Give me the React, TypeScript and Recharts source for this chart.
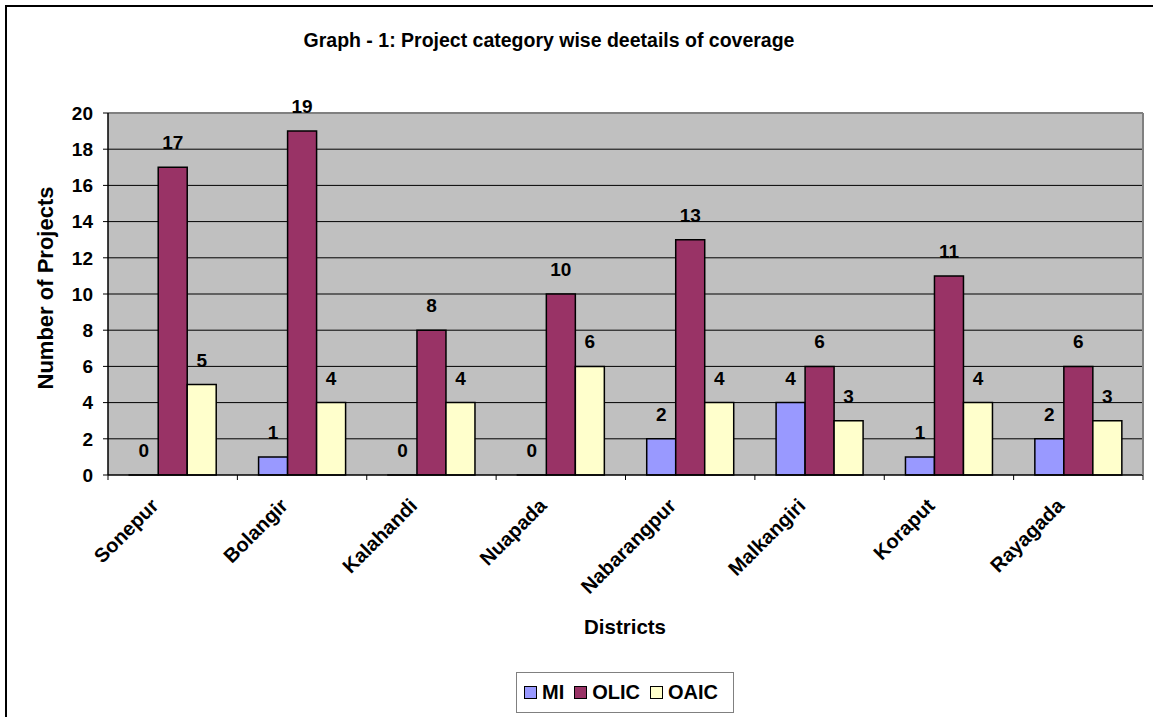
import React from 'react';
import { BarChart, Bar, XAxis, YAxis, CartesianGrid, LabelList, ReferenceLine } from 'recharts';

const districts = ['Sonepur', 'Bolangir', 'Kalahandi', 'Nuapada', 'Nabarangpur', 'Malkangiri', 'Koraput', 'Rayagada'];
const miValues = [0, 1, 0, 0, 2, 4, 1, 2];
const olicValues = [17, 19, 8, 10, 13, 6, 11, 6];
const oaicValues = [5, 4, 4, 6, 4, 3, 4, 3];
const yTicks = [0, 2, 4, 6, 8, 10, 12, 14, 16, 18, 20];

const seriesInfo = [
  { key: 'MI', color: '#9999FF' },
  { key: 'OLIC', color: '#993366' },
  { key: 'OAIC', color: '#FFFFCC' },
];

const data = districts.map((district, i) => ({
  district,
  MI: miValues[i],
  OLIC: olicValues[i],
  OAIC: oaicValues[i],
}));

const FONT = '"Liberation Sans", Arial, sans-serif';
const textStyle = { fontFamily: FONT, fontWeight: 700, fontSize: 19, fill: '#000' };

// category label, rotated, with tick marks on the category boundaries
const DistrictTick = (props: any) => {
  const { x, y, payload, index } = props;
  const half = payload.offset || 0;
  const last = index === districts.length - 1;
  const ax = x - 13;
  const ay = y + 32;
  return (
    <g>
      <line x1={x - half} x2={x - half} y1={y} y2={y + 5} stroke="#000" />
      {last && <line x1={x + half} x2={x + half} y1={y} y2={y + 5} stroke="#000" />}
      <text
        x={ax}
        y={ay}
        textAnchor="end"
        transform={`rotate(-45, ${ax}, ${ay})`}
        style={{ ...textStyle, fontSize: 20 }}
      >
        {payload.value}
      </text>
    </g>
  );
};

const LegendBox = () => (
  <div
    style={{
      position: 'absolute',
      left: 516,
      top: 672,
      boxSizing: 'border-box',
      width: 218,
      height: 41,
      border: '1px solid #808080',
      background: '#fff',
      display: 'flex',
      alignItems: 'center',
      paddingLeft: 7,
      fontFamily: FONT,
      fontWeight: 700,
      fontSize: 20,
      color: '#000',
    }}
  >
    {seriesInfo.map((s) => (
      <div key={s.key} style={{ display: 'flex', alignItems: 'center', marginRight: 10 }}>
        <span
          style={{
            display: 'inline-block',
            boxSizing: 'border-box',
            width: 13,
            height: 13,
            background: s.color,
            border: '1px solid #000',
            marginRight: 5,
          }}
        />
        <span>{s.key}</span>
      </div>
    ))}
  </div>
);

export default function App() {
  return (
    <div style={{ position: 'absolute', left: 0, top: 0, width: 1153, height: 717, overflow: 'hidden', background: '#fff' }}>
      <div
        style={{
          position: 'absolute',
          left: 5,
          top: 5,
          width: 1300,
          height: 900,
          borderLeft: '2px solid #000',
          borderTop: '2px solid #000',
        }}
      />
      <div
        style={{
          position: 'absolute',
          left: 0,
          top: 29,
          width: 1098,
          textAlign: 'center',
          fontFamily: FONT,
          fontWeight: 700,
          fontSize: 19.5,
          lineHeight: '22px',
          whiteSpace: 'nowrap',
        }}
      >
        Graph - 1: Project category wise deetails of coverage
      </div>
      <div
        style={{
          position: 'absolute',
          left: 45,
          top: 288,
          transform: 'translate(-50%, -50%) rotate(-90deg)',
          fontFamily: FONT,
          fontWeight: 700,
          fontSize: 22,
          lineHeight: '25px',
          whiteSpace: 'nowrap',
        }}
      >
        Number of Projects
      </div>
      <div
        style={{
          position: 'absolute',
          left: 525,
          top: 615,
          width: 200,
          textAlign: 'center',
          fontFamily: FONT,
          fontWeight: 700,
          fontSize: 20.5,
          lineHeight: '23px',
        }}
      >
        Districts
      </div>
      <div style={{ position: 'absolute', left: 0, top: 0 }}>
        <BarChart
          width={1153}
          height={717}
          data={data}
          margin={{ top: 113, right: 9, bottom: 241, left: 107 }}
          barCategoryGap="16.4%"
          barGap={0}
        >
          <CartesianGrid
            vertical={false}
            horizontalValues={[2, 4, 6, 8, 10, 12, 14, 16, 18]}
            stroke="#000"
            strokeWidth={1}
            fill="#C0C0C0"
          />
          <XAxis
            dataKey="district"
            height={1}
            tickSize={0}
            tickMargin={0}
            tickLine={false}
            interval={0}
            axisLine={{ stroke: '#000', strokeWidth: 1.5 }}
            tick={<DistrictTick />}
          />
          <YAxis
            width={1}
            domain={[0, 20]}
            ticks={yTicks}
            interval={0}
            tickSize={5}
            tickMargin={10}
            axisLine={{ stroke: '#000', strokeWidth: 1.5 }}
            tickLine={{ stroke: '#000' }}
            tick={textStyle}
          />
          <YAxis
            yAxisId="frame"
            orientation="right"
            width={1}
            domain={[0, 20]}
            tick={false}
            tickLine={false}
            axisLine={{ stroke: '#808080', strokeWidth: 2 }}
          />
          <ReferenceLine y={20} stroke="#808080" strokeWidth={2} />
          {seriesInfo.map((s) => (
            <Bar
              key={s.key}
              dataKey={s.key}
              fill={s.color}
              stroke="#000"
              strokeWidth={1.5}
              minPointSize={0.01}
              isAnimationActive={false}
            >
              <LabelList dataKey={s.key} position="top" offset={18} style={textStyle} />
            </Bar>
          ))}
        </BarChart>
      </div>
      <LegendBox />
    </div>
  );
}
